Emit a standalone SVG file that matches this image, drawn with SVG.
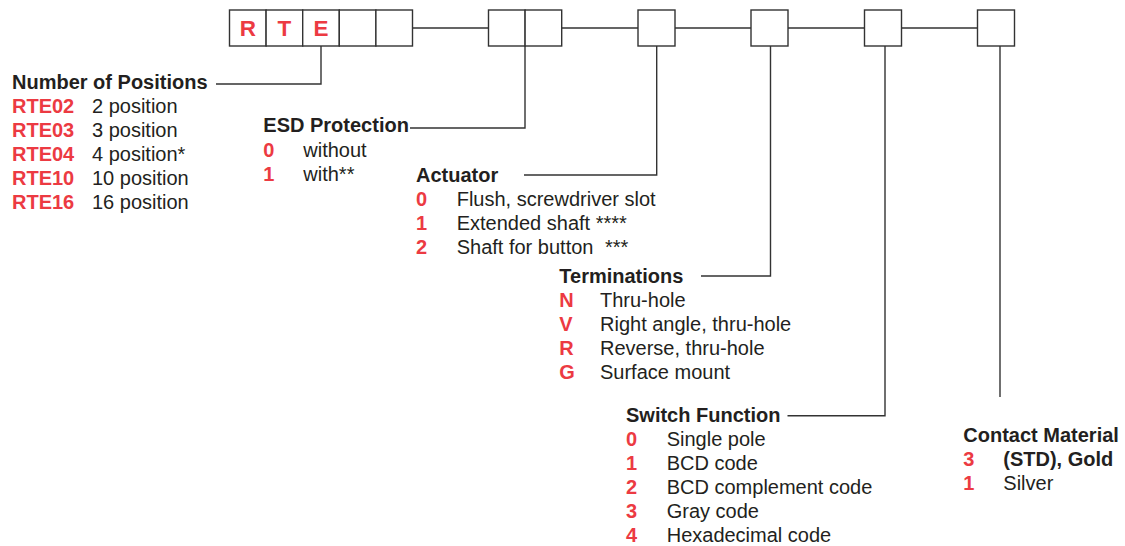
<svg xmlns="http://www.w3.org/2000/svg" width="1125" height="546" viewBox="0 0 1125 546">
<style>
text{font-family:"Liberation Sans",Arial,Helvetica,sans-serif;font-size:20px;fill:#231F20}
.b{font-weight:bold}
.r{fill:#EC3A42;font-weight:bold}
.box{fill:#fff;stroke:#333;stroke-width:1.4}
.ln{fill:none;stroke:#333;stroke-width:1.4}
.big{font-size:22.5px;text-anchor:middle}
</style>
<rect width="1125" height="546" fill="#fff"/>
<g id="connectors">
<path class="ln" d="M412.5 28H488.5M561.7 28H638M675 28H751M788 28H864.5M901.5 28H977.5"/>
<path class="ln" d="M321 46V84H216"/>
<path class="ln" d="M525 46V128H410"/>
<path class="ln" d="M656.7 46V175H524"/>
<path class="ln" d="M770.5 46V276H701"/>
<path class="ln" d="M885 46V415.7H787.5"/>
<path class="ln" d="M1000 46V397"/>
</g>
<g id="code-boxes">
<rect class="box" x="229.5" y="10" width="36.6" height="36"/>
<rect class="box" x="266.1" y="10" width="36.6" height="36"/>
<rect class="box" x="302.7" y="10" width="36.6" height="36"/>
<rect class="box" x="339.3" y="10" width="36.6" height="36"/>
<rect class="box" x="375.9" y="10" width="36.6" height="36"/>
<text class="r big" x="247.8" y="35.5">R</text>
<text class="r big" x="284.4" y="35.5">T</text>
<text class="r big" x="321" y="35.5">E</text>
</g>
<g id="esd-boxes">
<rect class="box" x="488.5" y="10" width="36.6" height="36"/>
<rect class="box" x="525.1" y="10" width="36.6" height="36"/>
</g>
<g id="actuator-box"><rect class="box" x="638" y="10" width="37" height="36"/></g>
<g id="terminations-box"><rect class="box" x="751" y="10" width="37" height="36"/></g>
<g id="switch-box"><rect class="box" x="864.5" y="10" width="37" height="36"/></g>
<g id="contact-box"><rect class="box" x="977.5" y="10" width="37" height="36"/></g>
<g id="number-of-positions">
<text class="b" x="12" y="89">Number of Positions</text>
<text class="r" x="12" y="113">RTE02</text><text x="92" y="113">2 position</text>
<text class="r" x="12" y="137">RTE03</text><text x="92" y="137">3 position</text>
<text class="r" x="12" y="161">RTE04</text><text x="92" y="161">4 position*</text>
<text class="r" x="12" y="185">RTE10</text><text x="92" y="185">10 position</text>
<text class="r" x="12" y="209">RTE16</text><text x="92" y="209">16 position</text>
</g>
<g id="esd-protection">
<text class="b" x="263.3" y="132">ESD Protection</text>
<text class="r" x="263.3" y="156.5">0</text><text x="303.3" y="156.5">without</text>
<text class="r" x="263.3" y="180.5">1</text><text x="303.3" y="180.5">with**</text>
</g>
<g id="actuator">
<text class="b" x="416" y="181.7">Actuator</text>
<text class="r" x="416" y="205.5">0</text><text x="456.7" y="205.5">Flush, screwdriver slot</text>
<text class="r" x="416" y="229.5">1</text><text x="456.7" y="229.5">Extended shaft ****</text>
<text class="r" x="416" y="254">2</text><text x="456.7" y="254">Shaft for button</text><text x="605" y="254">***</text>
</g>
<g id="terminations">
<text class="b" x="559.3" y="282.7">Terminations</text>
<text class="r" x="559.3" y="306.7">N</text><text x="600" y="306.7">Thru-hole</text>
<text class="r" x="559.3" y="330.7">V</text><text x="600" y="330.7">Right angle, thru-hole</text>
<text class="r" x="559.3" y="354.7">R</text><text x="600" y="354.7">Reverse, thru-hole</text>
<text class="r" x="559.3" y="378.5">G</text><text x="600" y="378.5">Surface mount</text>
</g>
<g id="switch-function">
<text class="b" x="626" y="421.7">Switch Function</text>
<text class="r" x="626" y="445.5">0</text><text x="666.7" y="445.5">Single pole</text>
<text class="r" x="626" y="469.7">1</text><text x="666.7" y="469.7">BCD code</text>
<text class="r" x="626" y="494">2</text><text x="666.7" y="494">BCD complement code</text>
<text class="r" x="626" y="518.3">3</text><text x="666.7" y="518.3">Gray code</text>
<text class="r" x="626" y="542">4</text><text x="666.7" y="542">Hexadecimal code</text>
</g>
<g id="contact-material">
<text class="b" x="963.3" y="441.7">Contact Material</text>
<text class="r" x="963.3" y="465.7">3</text><text class="b" x="1003.3" y="465.7">(STD), Gold</text>
<text class="r" x="963.3" y="489.5">1</text><text x="1003.3" y="489.5">Silver</text>
</g>
</svg>
